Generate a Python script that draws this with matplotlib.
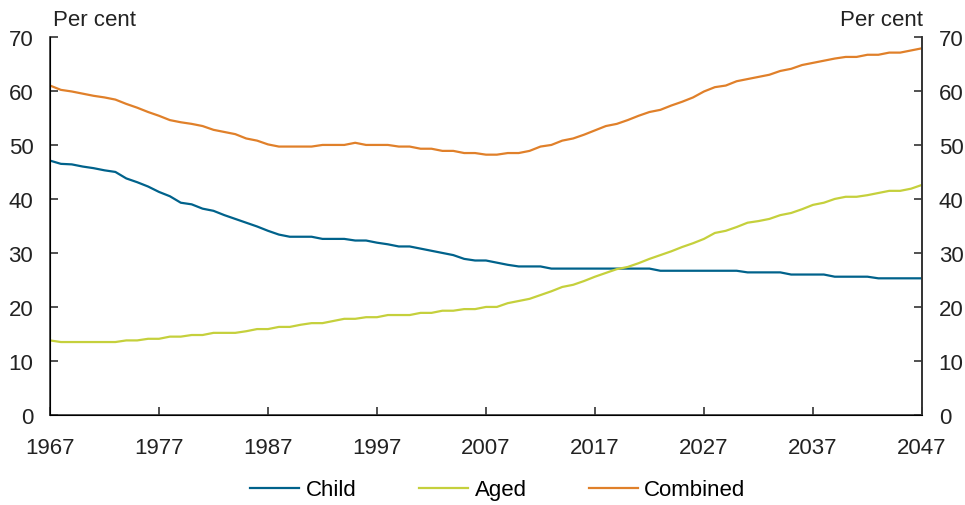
import numpy as np
import matplotlib.pyplot as plt

plt.rcParams['font.family'] = ['Liberation Sans', 'DejaVu Sans']

years = np.arange(1967, 2048)

child = [47.1, 46.5, 46.4, 46.0, 45.7, 45.3, 45.0, 43.8, 43.1, 42.3,
         41.3, 40.5, 39.3, 39.0, 38.2, 37.8, 37.0, 36.3, 35.6, 34.9,
         34.1, 33.4, 33.0, 33.0, 33.0, 32.6, 32.6, 32.6, 32.3, 32.3,
         31.9, 31.6, 31.2, 31.2, 30.8, 30.4, 30.0, 29.6, 28.9, 28.6,
         28.6, 28.2, 27.8, 27.5, 27.5, 27.5, 27.1, 27.1, 27.1, 27.1,
         27.1, 27.1, 27.1, 27.1, 27.1, 27.1, 26.7, 26.7, 26.7, 26.7,
         26.7, 26.7, 26.7, 26.7, 26.4, 26.4, 26.4, 26.4, 26.0, 26.0,
         26.0, 26.0, 25.6, 25.6, 25.6, 25.6, 25.3, 25.3, 25.3, 25.3,
         25.3]

aged = [13.8, 13.5, 13.5, 13.5, 13.5, 13.5, 13.5, 13.8, 13.8, 14.1,
        14.1, 14.5, 14.5, 14.8, 14.8, 15.2, 15.2, 15.2, 15.5, 15.9,
        15.9, 16.3, 16.3, 16.7, 17.0, 17.0, 17.4, 17.8, 17.8, 18.1,
        18.1, 18.5, 18.5, 18.5, 18.9, 18.9, 19.3, 19.3, 19.6, 19.6,
        20.0, 20.0, 20.7, 21.1, 21.5, 22.2, 22.9, 23.7, 24.1, 24.8,
        25.6, 26.3, 27.0, 27.4, 28.1, 28.9, 29.6, 30.3, 31.1, 31.8,
        32.6, 33.7, 34.1, 34.8, 35.6, 35.9, 36.3, 37.0, 37.4, 38.1,
        38.9, 39.3, 40.0, 40.4, 40.4, 40.7, 41.1, 41.5, 41.5, 41.9,
        42.6]

combined = [61.0, 60.2, 59.9, 59.5, 59.1, 58.8, 58.4, 57.6, 56.9, 56.1,
            55.4, 54.6, 54.2, 53.9, 53.5, 52.8, 52.4, 52.0, 51.2, 50.8,
            50.1, 49.7, 49.7, 49.7, 49.7, 50.0, 50.0, 50.0, 50.4, 50.0,
            50.0, 50.0, 49.7, 49.7, 49.3, 49.3, 48.9, 48.9, 48.5, 48.5,
            48.2, 48.2, 48.5, 48.5, 48.9, 49.7, 50.0, 50.8, 51.2, 51.9,
            52.7, 53.5, 53.9, 54.6, 55.4, 56.1, 56.5, 57.3, 58.0, 58.8,
            59.9, 60.7, 61.0, 61.8, 62.2, 62.6, 63.0, 63.7, 64.1, 64.8,
            65.2, 65.6, 66.0, 66.3, 66.3, 66.7, 66.7, 67.1, 67.1, 67.5,
            67.9]

xticks = np.arange(1967, 2048, 10)
yticks = np.arange(0, 71, 10)

fig = plt.figure(figsize=(9.65, 5.06), dpi=100)
ax = fig.add_axes([0.0518, 0.178, 0.9036, 0.747])

ax.plot(years, child, color='#00628B', lw=1.6, label='Child')
ax.plot(years, aged, color='#C5D03C', lw=1.6, label='Aged')
ax.plot(years, combined, color='#E0802A', lw=1.6, label='Combined')

ax.set_xlim(1967, 2047)
ax.set_ylim(0, 70)
ax.set_xticks(xticks)
ax.set_yticks(yticks)
ax.spines['top'].set_visible(False)
for s in ['left', 'right', 'bottom']:
    ax.spines[s].set_color('#333333')
    ax.spines[s].set_linewidth(1.2)

ax2 = ax.twinx()
ax2.set_ylim(0, 70)
ax2.set_yticks(yticks)
ax2.spines['top'].set_visible(False)
ax2.spines['right'].set_color('#333333')
ax2.spines['right'].set_linewidth(1.2)

ax.tick_params(axis='x', direction='in', length=6, width=1.2, color='#333333',
               labelsize=16, pad=16, labelcolor='#222222')
ax.tick_params(axis='y', direction='in', length=6, width=1.2, color='#333333',
               labelsize=16, pad=12, labelcolor='#222222')
ax2.tick_params(axis='y', direction='in', length=6, width=1.2, color='#333333',
                labelsize=16, pad=12, labelcolor='#222222')

fig.text(0.055, 0.96, 'Per cent', fontsize=16, color='#222222', ha='left', va='center')
fig.text(0.956, 0.96, 'Per cent', fontsize=16, color='#222222', ha='right', va='center')

# legend sits at the very bottom, nudged up just enough to stay inside the figure
fig.legend(loc='center', bbox_to_anchor=(0.516, 0.03), ncol=3, frameon=False,
           fontsize=16, handlelength=2.2, handletextpad=0.3, columnspacing=2.8)

fig.savefig('out.png', dpi=100)
